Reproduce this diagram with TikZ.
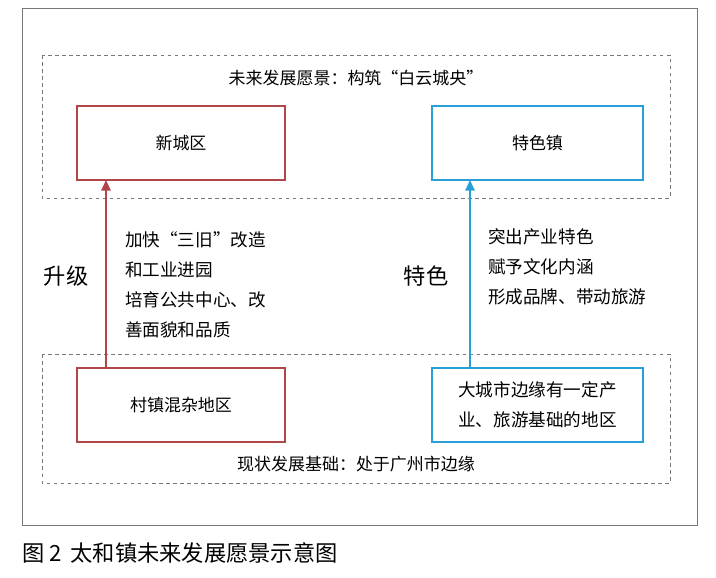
\documentclass[tikz,border=0pt]{standalone}
\usepackage{fontspec}
\setmainfont{Noto Sans CJK SC}
\usetikzlibrary{arrows.meta}
\definecolor{redline}{RGB}{176,70,74}
\definecolor{blueline}{RGB}{40,160,215}
\definecolor{grayline}{RGB}{120,120,120}
\tikzset{
  redbox/.style={draw=redline,line width=1.3pt,minimum width=208*0.03cm,minimum height=74*0.03cm,font=\fontsize{14.5}{15}\selectfont},
  bluebox/.style={draw=blueline,line width=1.3pt,minimum width=211*0.03cm,minimum height=74*0.03cm,font=\fontsize{14.5}{15}\selectfont,align=center},
  zone/.style={draw=grayline,dashed,line width=0.8pt},
  txt/.style={font=\fontsize{15}{16}\selectfont,inner sep=0pt},
}
\begin{document}
\begin{tikzpicture}[x=0.03cm,y=-0.03cm]
\useasboundingbox (0,0) rectangle (716,577);
\draw[grayline,line width=0.8pt] (22,8) rectangle (697,525);
\draw[zone] (42,55) rectangle (670,198);
\draw[zone] (42,354) rectangle (670,483);

\node[txt,font=\fontsize{14.5}{15}\selectfont] (vision) at (356,78) {未来发展愿景：构筑“白云城央”};
\node[txt,font=\fontsize{14.5}{15}\selectfont] (base) at (356,464) {现状发展基础：处于广州市边缘};

\node[redbox] (A) at (181,143) {新城区};
\node[bluebox] (B) at (537.5,143) {特色镇};
\node[redbox] (C) at (181,405) {村镇混杂地区};
\node[bluebox,font=\fontsize{15}{26}\selectfont] (D) at (537.5,405) {大城市边缘有一定产\\业、旅游基础的地区};

\coordinate (a1) at (106,368);
\coordinate (a2) at (106,180);
\coordinate (b1) at (470,368);
\coordinate (b2) at (470,180);
\draw[redline,line width=1.2pt,-{Triangle[length=9pt,width=8pt]}] (a1) -- (a2);
\draw[blueline,line width=1.2pt,-{Triangle[length=9pt,width=8pt]}] (b1) -- (b2);

\node[font=\fontsize{19}{20}\selectfont] (up) at (66,276) {升级};
\node[font=\fontsize{19}{20}\selectfont] (te) at (426,276) {特色};

\node[txt,anchor=west] (l1) at (125,240) {加快“三旧”改造};
\node[txt,anchor=west] (l2) at (125,270) {和工业进园};
\node[txt,anchor=west] (l3) at (125,300) {培育公共中心、改};
\node[txt,anchor=west] (l4) at (125,330) {善面貌和品质};

\node[txt,anchor=west] (r1) at (488,237) {突出产业特色};
\node[txt,anchor=west] (r2) at (488,267) {赋予文化内涵};
\node[txt,anchor=west] (r3) at (488,297) {形成品牌、带动旅游};

\node[font=\fontsize{19}{20}\selectfont,anchor=west,inner sep=0pt] (cap) at (22,553) {图 2\, 太和镇未来发展愿景示意图};
\end{tikzpicture}
\end{document}
